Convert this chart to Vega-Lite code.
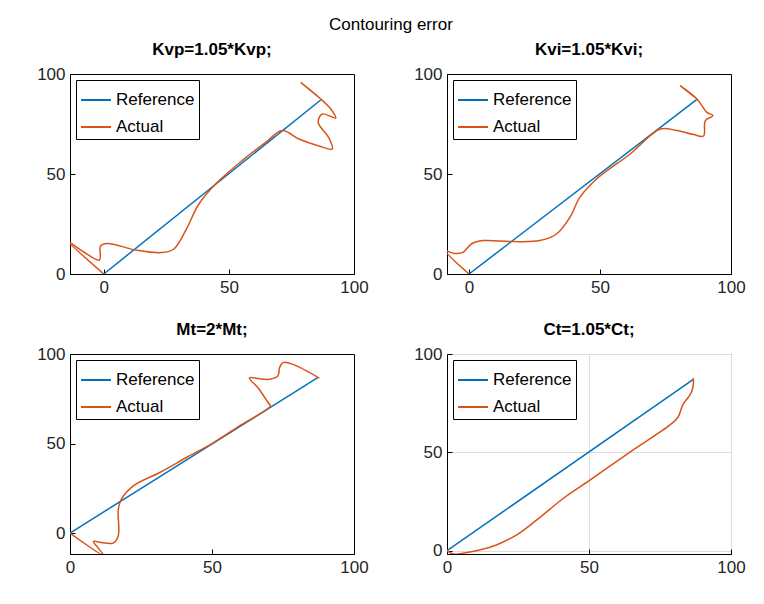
{
"$schema":"https://vega.github.io/schema/vega-lite/v6.json",
"background":"white",
"padding":{"left":36,"top":15,"right":20,"bottom":5},
"title":{"text":"Contouring error","fontSize":17,"fontWeight":"normal","font":"Liberation Sans","color":"black","anchor":"middle","offset":7},
"config":{"font":"Liberation Sans","view":{"stroke":"black","strokeWidth":1},
 "axis":{"domainColor":"black","tickColor":"black","tickSize":-5,"labelFontSize":17,"labelColor":"#262626","labelPadding":10,"title":null,"labelFlush":false,"grid":false},
 "title":{"fontSize":17,"fontWeight":"bold","color":"black","offset":6},
 "legend":{"orient":"top-left","offset":6,"strokeColor":"black","fillColor":"white","padding":4,"labelFontSize":17,"labelColor":"black","symbolType":"stroke","symbolSize":900,"symbolStrokeWidth":2,"title":null,"rowPadding":3}},
"columns":2,
"spacing":{"column":44,"row":24},
"resolve":{"scale":{"color":"independent"}},
"datasets":{
"p1":[{"s":"Reference","i":0,"x":0,"y":0},{"s":"Reference","i":1,"x":86.7,"y":87},
{"s":"Actual","i":0,"x":0,"y":0},{"s":"Actual","i":1,"x":-15,"y":17},{"s":"Actual","i":2,"x":-8,"y":11},{"s":"Actual","i":3,"x":-1.7,"y":7},{"s":"Actual","i":4,"x":-1.3,"y":14},{"s":"Actual","i":5,"x":1.3,"y":15.3},{"s":"Actual","i":6,"x":12.7,"y":12},{"s":"Actual","i":7,"x":23.3,"y":10.7},{"s":"Actual","i":8,"x":28,"y":12.5},{"s":"Actual","i":9,"x":32.7,"y":21.7},{"s":"Actual","i":10,"x":38,"y":35},{"s":"Actual","i":11,"x":44.7,"y":45},{"s":"Actual","i":12,"x":55.3,"y":56.7},{"s":"Actual","i":13,"x":64.7,"y":65.8},{"s":"Actual","i":14,"x":71.3,"y":71.7},{"s":"Actual","i":15,"x":78,"y":67.5},{"s":"Actual","i":16,"x":86,"y":64},{"s":"Actual","i":17,"x":91.3,"y":62.5},{"s":"Actual","i":18,"x":90,"y":68},{"s":"Actual","i":19,"x":85.7,"y":75.8},{"s":"Actual","i":20,"x":87.3,"y":80},{"s":"Actual","i":21,"x":92.7,"y":78},{"s":"Actual","i":22,"x":90.7,"y":82.5},{"s":"Actual","i":23,"x":86.7,"y":87.5},{"s":"Actual","i":24,"x":78.7,"y":95.8},{"s":"Actual","i":25,"x":86.7,"y":87.5}],
"p2":[{"s":"Reference","i":0,"x":0,"y":0},{"s":"Reference","i":1,"x":87,"y":87.3},
{"s":"Actual","i":0,"x":0,"y":0},{"s":"Actual","i":1,"x":-8.7,"y":11.3},{"s":"Actual","i":2,"x":-5.5,"y":10.3},{"s":"Actual","i":3,"x":-2.3,"y":10.8},{"s":"Actual","i":4,"x":0.9,"y":15},{"s":"Actual","i":5,"x":5.4,"y":16.7},{"s":"Actual","i":6,"x":16.8,"y":16.2},{"s":"Actual","i":7,"x":27,"y":16.7},{"s":"Actual","i":8,"x":33.4,"y":20},{"s":"Actual","i":9,"x":38.5,"y":28.3},{"s":"Actual","i":10,"x":42.3,"y":38.3},{"s":"Actual","i":11,"x":48.7,"y":47.5},{"s":"Actual","i":12,"x":61.5,"y":60},{"s":"Actual","i":13,"x":73,"y":72.5},{"s":"Actual","i":14,"x":79.3,"y":71.7},{"s":"Actual","i":15,"x":85.7,"y":69.7},{"s":"Actual","i":16,"x":89.5,"y":69},{"s":"Actual","i":17,"x":90.2,"y":76.7},{"s":"Actual","i":18,"x":93.1,"y":79.2},{"s":"Actual","i":19,"x":90.8,"y":80.8},{"s":"Actual","i":20,"x":87,"y":87.5},{"s":"Actual","i":21,"x":80.6,"y":94.2},{"s":"Actual","i":22,"x":87,"y":87.5}],
"p3":[{"s":"Reference","i":0,"x":0,"y":0},{"s":"Reference","i":1,"x":87.2,"y":86.8},
{"s":"Actual","i":0,"x":0,"y":0},{"s":"Actual","i":1,"x":11.7,"y":-12.3},{"s":"Actual","i":2,"x":9.5,"y":-7.5},{"s":"Actual","i":3,"x":8.2,"y":-4.6},{"s":"Actual","i":4,"x":10.5,"y":-5.1},{"s":"Actual","i":5,"x":15.2,"y":-5.6},{"s":"Actual","i":6,"x":17,"y":-1.5},{"s":"Actual","i":7,"x":17,"y":13.4},{"s":"Actual","i":8,"x":18.1,"y":19},{"s":"Actual","i":9,"x":22.3,"y":26.4},{"s":"Actual","i":10,"x":31.6,"y":33.8},{"s":"Actual","i":11,"x":41,"y":42.2},{"s":"Actual","i":12,"x":50,"y":50},{"s":"Actual","i":13,"x":59.7,"y":59.9},{"s":"Actual","i":14,"x":70.5,"y":71},{"s":"Actual","i":15,"x":69.7,"y":72.9},{"s":"Actual","i":16,"x":66.2,"y":81.2},{"s":"Actual","i":17,"x":63.8,"y":85},{"s":"Actual","i":18,"x":63.2,"y":86.8},{"s":"Actual","i":19,"x":66.7,"y":86.2},{"s":"Actual","i":20,"x":70.2,"y":85.9},{"s":"Actual","i":21,"x":73.2,"y":87.7},{"s":"Actual","i":22,"x":73.8,"y":92.4},{"s":"Actual","i":23,"x":75,"y":95.2},{"s":"Actual","i":24,"x":78.5,"y":94.2},{"s":"Actual","i":25,"x":87.8,"y":86.5}],
"p4":[{"s":"Reference","i":0,"x":0,"y":0},{"s":"Reference","i":1,"x":86.6,"y":87},
{"s":"Actual","i":0,"x":0,"y":0},{"s":"Actual","i":1,"x":2.1,"y":-1.7},{"s":"Actual","i":2,"x":5.6,"y":-1.3},{"s":"Actual","i":3,"x":11.5,"y":0.3},{"s":"Actual","i":4,"x":17.4,"y":2.9},{"s":"Actual","i":5,"x":24.4,"y":7.9},{"s":"Actual","i":6,"x":31.5,"y":15.5},{"s":"Actual","i":7,"x":40.8,"y":26.4},{"s":"Actual","i":8,"x":50.2,"y":35.7},{"s":"Actual","i":9,"x":64.3,"y":50},{"s":"Actual","i":10,"x":78.4,"y":63.8},{"s":"Actual","i":11,"x":81.3,"y":67.7},{"s":"Actual","i":12,"x":83.1,"y":74.4},{"s":"Actual","i":13,"x":86,"y":80.3},{"s":"Actual","i":14,"x":86.8,"y":86.2},{"s":"Actual","i":15,"x":86.6,"y":87.8}]
},
"concat":[
{"title":"Kvp=1.05*Kvp;","width":284,"height":200,"data":{"name":"p1"},"mark":{"type":"line","clip":true,"strokeWidth":1.5,"interpolate":"catmull-rom"},
 "encoding":{"x":{"field":"x","type":"quantitative","scale":{"domain":[-13.5,100],"nice":false,"zero":false},"axis":{"values":[0,50,100]}},"y":{"field":"y","type":"quantitative","scale":{"domain":[0,100],"nice":false},"axis":{"values":[0,50,100]}},"order":{"field":"i"},"color":{"field":"s","type":"nominal","scale":{"domain":["Reference","Actual"],"range":["#0072BD","#D95319"]}}}},
{"title":"Kvi=1.05*Kvi;","width":284,"height":200,"data":{"name":"p2"},"mark":{"type":"line","clip":true,"strokeWidth":1.5,"interpolate":"catmull-rom"},
 "encoding":{"x":{"field":"x","type":"quantitative","scale":{"domain":[-8.4,100],"nice":false,"zero":false},"axis":{"values":[0,50,100]}},"y":{"field":"y","type":"quantitative","scale":{"domain":[0,100],"nice":false},"axis":{"values":[0,50,100]}},"order":{"field":"i"},"color":{"field":"s","type":"nominal","scale":{"domain":["Reference","Actual"],"range":["#0072BD","#D95319"]}}}},
{"title":"Mt=2*Mt;","width":284,"height":200,"data":{"name":"p3"},"mark":{"type":"line","clip":true,"strokeWidth":1.5,"interpolate":"catmull-rom"},
 "encoding":{"x":{"field":"x","type":"quantitative","scale":{"domain":[0,100],"nice":false},"axis":{"values":[0,50,100]}},"y":{"field":"y","type":"quantitative","scale":{"domain":[-11.7,100],"nice":false,"zero":false},"axis":{"values":[0,50,100]}},"order":{"field":"i"},"color":{"field":"s","type":"nominal","scale":{"domain":["Reference","Actual"],"range":["#0072BD","#D95319"]}}}},
{"title":"Ct=1.05*Ct;","width":284,"height":200,"data":{"name":"p4"},"mark":{"type":"line","clip":true,"strokeWidth":1.5,"interpolate":"catmull-rom"},
 "encoding":{"x":{"field":"x","type":"quantitative","scale":{"domain":[0,100],"nice":false},"axis":{"values":[0,50,100],"grid":true,"gridColor":"#dddddd"}},"y":{"field":"y","type":"quantitative","scale":{"domain":[-1.7,100],"nice":false,"zero":false},"axis":{"values":[0,50,100],"grid":true,"gridColor":"#dddddd"}},"order":{"field":"i"},"color":{"field":"s","type":"nominal","scale":{"domain":["Reference","Actual"],"range":["#0072BD","#D95319"]}}}}
]
}
